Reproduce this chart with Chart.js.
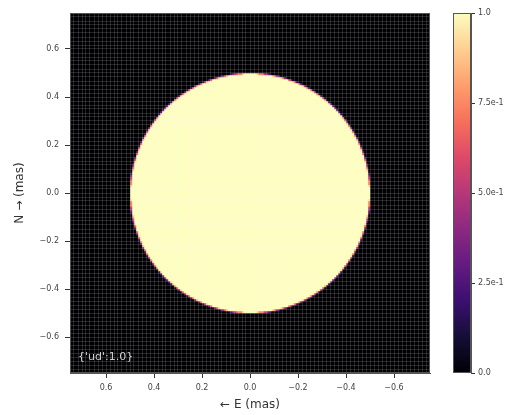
<!DOCTYPE html>
<html>
<head>
<meta charset="utf-8">
<script src="https://cdn.jsdelivr.net/npm/chart.js@4/dist/chart.umd.min.js"></script>
<style>
  html, body { margin: 0; padding: 0; background: #fff; }
  #wrap { width: 514px; height: 415px; }
</style>
</head>
<body>
<div id="wrap"><canvas id="c" width="514" height="415"></canvas></div>
<script>
// Uniform-disk model image on a square pixel grid (mas)
const udDiameter = 1.0;
const fieldOfView = 1.5;
const pixelCount = 180;
const gridCount = 90;

const xTicks = [0.6, 0.4, 0.2, 0.0, -0.2, -0.4, -0.6];
const yTicks = [-0.6, -0.4, -0.2, 0.0, 0.2, 0.4, 0.6];
const cbTicks = [0.0, 0.25, 0.5, 0.75, 1.0];
const cbTickLabels = ['0.0', '2.5e-1', '5.0e-1', '7.5e-1', '1.0'];

// magma colormap stops
const magma = ['#000004', '#140e36', '#3b0f70', '#641a80', '#8c2981', '#b73779',
               '#de4968', '#f7705c', '#fe9f6d', '#fecf92', '#fcfdbf'];

function hexRgb(h) {
  return [parseInt(h.slice(1, 3), 16), parseInt(h.slice(3, 5), 16), parseInt(h.slice(5, 7), 16)];
}
function magmaColor(v) {
  v = Math.max(0, Math.min(1, v));
  const p = v * (magma.length - 1);
  const i = Math.min(Math.floor(p), magma.length - 2);
  const t = p - i;
  const a = hexRgb(magma[i]), b = hexRgb(magma[i + 1]);
  const c = a.map((ai, k) => Math.round(ai + (b[k] - ai) * t));
  return `rgb(${c[0]},${c[1]},${c[2]})`;
}

// Model image: fraction of each pixel covered by the disk
const half = fieldOfView / 2;
const step = fieldOfView / pixelCount;
const radius = udDiameter / 2;
const cells = [];
const cellColors = [];
const sub = 4;
for (let j = 0; j < pixelCount; j++) {
  for (let i = 0; i < pixelCount; i++) {
    const cx = -half + (i + 0.5) * step;
    const cy = -half + (j + 0.5) * step;
    let inside = 0;
    for (let a = 0; a < sub; a++) {
      for (let b = 0; b < sub; b++) {
        const sx = cx - step / 2 + (a + 0.5) * step / sub;
        const sy = cy - step / 2 + (b + 0.5) * step / sub;
        if (sx * sx + sy * sy <= radius * radius) inside++;
      }
    }
    const v = inside / (sub * sub);
    cells.push({ x: cx, y: cy, v: v });
    cellColors.push(magmaColor(v));
  }
}

// faint pixel-grid lines over the image
const gridLines = [];
for (let k = 1; k < gridCount; k++) gridLines.push(-half + k * fieldOfView / gridCount);

const fmt = v => {
  if (Math.abs(v) < 1e-9) return '0.0';
  return (v < 0 ? '\u2212' : '') + Math.abs(v).toFixed(1);
};

const tickFont = { family: 'DejaVu Sans', size: 8 };
const titleFont = { family: 'DejaVu Sans', size: 12 };

const frameAndColorbar = {
  id: 'frameAndColorbar',
  beforeDraw(chart) {
    const ctx = chart.ctx;
    ctx.save();
    ctx.fillStyle = '#ffffff';
    ctx.fillRect(0, 0, chart.width, chart.height);
    ctx.restore();
  },
  afterDraw(chart) {
    const { ctx, chartArea: a } = chart;
    ctx.save();
    ctx.strokeStyle = '#555';
    ctx.lineWidth = 1;
    ctx.strokeRect(a.left + 0.5, a.top + 0.5, a.right - a.left - 1, a.bottom - a.top - 1);
    ctx.font = '11px "DejaVu Sans"';
    ctx.fillStyle = '#cfcfcf';
    ctx.textBaseline = 'middle';
    ctx.fillText(`{'ud':${udDiameter.toFixed(1)}}`, a.left + 8, a.bottom - 16);

    const cb = chart.scales.cb;
    const y0 = cb.getPixelForValue(0), y1 = cb.getPixelForValue(1);
    const x1 = cb.left, x0 = x1 - 18;
    const g = ctx.createLinearGradient(0, y0, 0, y1);
    magma.forEach((c, k) => g.addColorStop(k / (magma.length - 1), c));
    ctx.fillStyle = g;
    ctx.fillRect(x0, y1, x1 - x0, y0 - y1);
    ctx.strokeRect(x0 + 0.5, y1 + 0.5, x1 - x0 - 1, y0 - y1 - 1);
    ctx.restore();
  }
};

const pixelGridAxis = (pos, horizontal) => ({
  type: 'linear', position: pos, min: -half, max: half, reverse: horizontal, weight: -1,
  afterBuildTicks: s => { s.ticks = gridLines.map(v => ({ value: v })); },
  afterFit: s => { if (horizontal) s.height = 0; else s.width = 0; },
  grid: { z: 1, drawOnChartArea: true, drawTicks: false, tickLength: 0, color: 'rgba(255,255,255,0.14)', lineWidth: 1 },
  border: { display: false },
  ticks: { display: false }
});

new Chart(document.getElementById('c'), {
  type: 'scatter',
  data: {
    datasets: [{
      data: cells,
      pointStyle: 'rect',
      pointRadius: (step * 240 + 0.4) / Math.SQRT2,
      pointBackgroundColor: cellColors,
      pointBorderWidth: 0
    }]
  },
  options: {
    responsive: false,
    animation: false,
    events: [],
    layout: { padding: { top: 13, left: 0, right: 0, bottom: 0 } },
    plugins: { legend: { display: false }, tooltip: { enabled: false } },
    scales: {
      x: {
        type: 'linear', min: -half, max: half, reverse: true,
        afterBuildTicks: s => { s.ticks = xTicks.map(v => ({ value: v })); },
        afterFit: s => { s.height = 42; },
        grid: { drawOnChartArea: false, tickLength: 5, color: '#333' },
        border: { color: '#555' },
        ticks: { font: tickFont, color: '#444', padding: 5, maxRotation: 0, callback: v => fmt(v) },
        title: { display: true, text: '\u2190 E (mas)', font: titleFont, color: '#333', padding: { top: 0, bottom: 3 } }
      },
      y: {
        type: 'linear', position: 'left', min: -half, max: half,
        afterBuildTicks: s => { s.ticks = yTicks.map(v => ({ value: v })); },
        afterFit: s => { s.width = 70; },
        grid: { drawOnChartArea: false, tickLength: 5, color: '#333' },
        border: { color: '#555' },
        ticks: { font: tickFont, color: '#444', padding: 6, callback: v => fmt(v) },
        title: { display: true, text: 'N \u2192 (mas)', font: titleFont, color: '#333', padding: { top: 13, bottom: 0 } }
      },
      gx: pixelGridAxis('bottom', true),
      gy: pixelGridAxis('left', false),
      gap: {
        type: 'linear', position: 'right', weight: 0, min: 0, max: 1,
        afterFit: s => { s.width = 41; },
        grid: { display: false }, border: { display: false }, ticks: { display: false }
      },
      cb: {
        type: 'linear', position: 'right', weight: 1, min: 0, max: 1,
        afterBuildTicks: s => { s.ticks = cbTicks.map(v => ({ value: v })); },
        afterFit: s => { s.width = 43; },
        grid: { drawOnChartArea: false, tickLength: 4, color: '#333' },
        border: { color: '#555' },
        ticks: { font: tickFont, color: '#444', padding: 3,
                 callback: (v) => cbTickLabels[cbTicks.indexOf(v)] }
      }
    }
  },
  plugins: [frameAndColorbar]
});
</script>
</body>
</html>
